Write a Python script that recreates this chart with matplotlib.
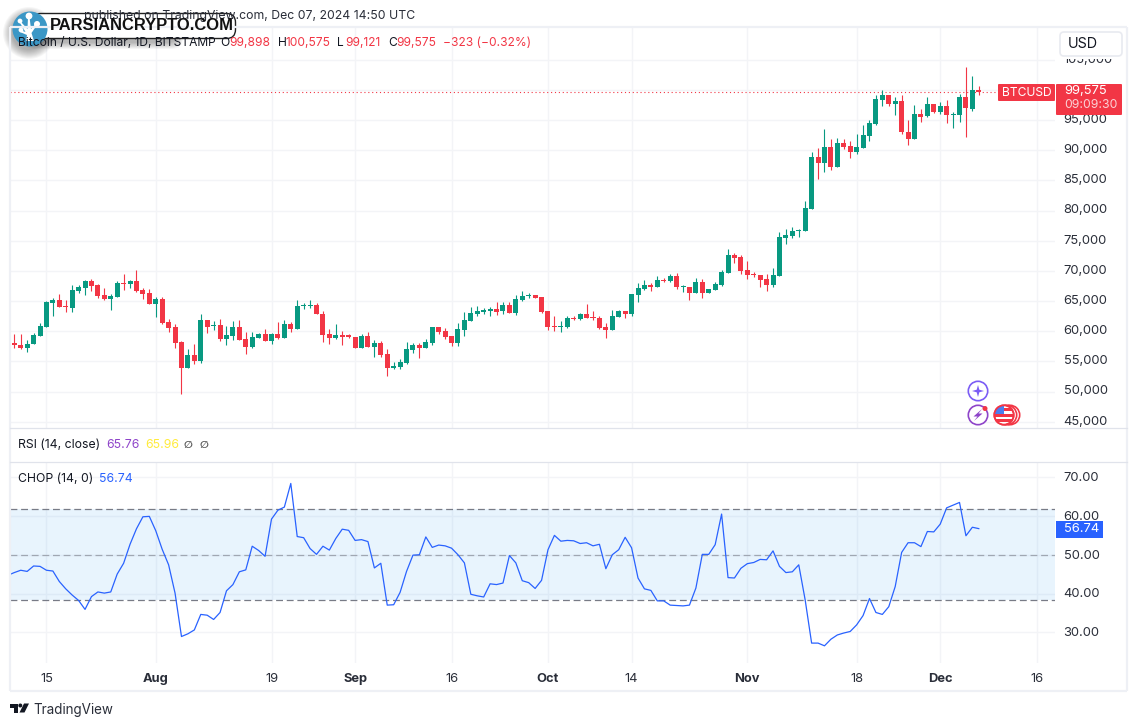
import numpy as np
import matplotlib
matplotlib.use("Agg")
import matplotlib.pyplot as plt
from matplotlib.patches import Circle, FancyBboxPatch, Polygon, Rectangle
from matplotlib.transforms import ScaledTranslation

plt.rcParams['font.family'] = ['Inter', 'DejaVu Sans']

# ---------- data ----------
opens = [58010,57680,57180,57840,59170,60660,64640,65140,64140,63810,66630,67130,68290,67620,65970,65300,65630,67960,67790,68290,
66800,66300,64480,65300,61490,60660,58180,53870,56020,55030,61820,60830,61000,58670,59170,60660,58670,57350,58840,59500,
58340,59500,58840,61160,60330,64140,64140,64310,62820,59500,58840,59340,59340,59005,57180,59170,57350,58010,56190,53870,
54030,54690,56850,57680,57180,58010,60660,60000,59170,58010,60165,61660,62820,63150,63315,63645,63315,64310,62980,65140,
65800,65965,65635,63315,60830,60660,60660,62155,61990,62820,62320,62155,60660,60165,62320,63315,62820,65965,66960,67625,
67290,68450,68290,69115,67290,67290,66300,68120,66300,66795,67620,69610,72595,72265,70110,69446,69280,68620,67620,69115,
75415,75745,76570,76570,80220,88840,87845,90500,87180,91160,90660,89670,90330,92320,94310,98288,99116,97625,98122,92983,
91823,95967,95635,97625,96300,97293,95800,95800,98785,96796,99898]
highs = [59500,59500,58510,59780,61440,64970,65470,66130,65140,67620,67620,68560,68620,67790,67130,66130,68290,69450,68450,70110,
67130,66960,65630,65630,62100,61160,58340,57020,57840,62820,61820,61660,62000,60830,61660,61820,59830,59830,59670,60330,
59670,61490,61820,61490,65140,64640,65140,64640,63310,60330,61160,60000,59500,59005,59500,59835,58510,58340,57020,54860,
55360,58180,58010,58010,58675,60660,60660,60500,59170,61325,63150,63980,64145,63810,63980,64805,64805,64805,65965,66630,
66300,65965,65635,63315,62485,61660,62485,62485,62980,64475,63315,62485,61325,63480,63480,63315,66130,67955,68450,67955,
69115,68785,69450,69610,67620,67290,68785,68620,66960,68120,70110,73590,72927,72595,71600,69780,69280,69446,70440,76410,
76905,77235,76905,81545,89670,90330,93480,91820,91990,91820,91490,92650,94144,94973,99116,99945,99116,98785,99116,94973,
97459,96796,98785,97625,97956,98288,96300,99282,103757,102265,100575]
lows = [57180,57130,56520,57840,59170,60660,62490,63980,63260,63260,66300,65970,66630,65470,65140,63480,65630,66800,67130,66460,
65300,64480,62320,61160,59830,57180,49560,53870,54530,54700,59670,60170,58340,57680,58510,58510,56190,57180,58840,58340,
57840,58670,58840,59830,60330,63650,63810,62820,58180,57840,58670,57680,58840,57180,57180,57350,55690,55690,52540,53700,
53700,54530,56350,55525,57180,57680,59500,58675,57515,57515,59170,61660,62485,62820,62485,62650,62820,62980,62650,64970,
65470,65470,62980,60165,60000,59835,60500,61825,61825,62155,61825,60330,58840,60165,62320,62155,62485,64805,66795,66630,
67290,68120,68120,66960,66460,65137,66300,65470,66300,66795,67460,69610,71270,69446,68620,68950,67290,66630,67290,69115,
74420,75415,75580,76570,80220,85190,86350,86685,87180,90170,88674,89337,90330,91490,94144,97293,97293,95800,92650,90829,
91823,94641,95470,96133,95967,94475,93647,94641,92155,96464,99121]
closes = [57680,57180,57840,59340,60830,64810,65140,63980,63980,66800,67290,68290,67460,65800,65300,65800,67960,67790,68290,66630,
66130,64480,65300,61330,60500,58010,53870,56020,55030,61820,60660,61000,58670,59340,60660,58510,57350,59000,59500,58340,
59500,58840,61160,60330,64140,64310,64310,62820,59340,58840,59340,59000,59000,57180,59170,57350,58010,56020,53870,54200,
54860,57020,57680,57180,58180,60660,59835,59005,58010,60330,61825,62980,63315,63480,63645,63150,64310,62980,65300,65800,
65965,65470,63150,60660,60660,60830,62155,61990,62820,62155,62155,60500,60165,62485,63315,62820,66130,67130,67625,67290,
68450,68290,69115,67290,67460,66297,68120,66300,66960,67790,69780,72595,72100,69945,69280,69280,68450,67620,69280,75580,
75910,76570,76740,80385,88840,87845,90500,87180,91160,90500,89670,90500,92486,94475,98453,99116,97625,98122,92983,91823,
95967,95470,97625,96300,97293,95800,95967,98785,96962,99945,99575]
# the first value lies one session before the first candle
chop = [44.7,45.4,46.0,45.7,47.1,47.0,46.0,45.8,43.1,41.2,39.6,38.2,35.9,39.2,40.4,40.1,40.4,45.0,47.8,52.7,
56.7,59.8,59.9,56.2,51.4,47.4,40.1,28.9,29.6,30.6,34.6,34.4,33.3,35.1,40.7,42.3,45.6,46.1,52.2,51.1,
49.6,59.2,61.5,62.3,68.4,54.7,54.4,51.6,50.1,52.2,51.2,54.2,56.6,56.3,53.7,53.9,53.4,46.6,47.8,37.0,
37.1,40.3,45.7,49.9,50.0,54.6,51.9,52.5,52.3,51.7,50.0,47.9,39.8,39.4,39.1,42.5,42.3,42.7,49.8,47.9,
43.3,42.8,41.3,43.4,51.3,55.0,53.5,53.7,53.6,52.9,53.1,52.3,52.7,46.4,50.0,51.3,54.5,51.8,44.0,41.2,
40.8,38.1,38.1,37.0,36.9,36.8,37.0,41.4,50.1,50.1,52.6,60.5,44.1,44.0,46.5,47.7,48.0,48.8,48.7,51.0,
47.0,45.4,45.6,47.4,38.3,27.2,27.2,26.5,28.2,29.3,29.8,30.2,31.9,34.3,38.7,35.1,34.6,36.6,41.8,50.6,
53.1,53.1,52.1,56.0,55.9,57.9,62.1,62.8,63.5,54.9,57.1,56.74]
price_ticks = [45000,50000,55000,60000,65000,70000,75000,80000,85000,90000,95000,100000,105000]
chop_ticks = [30,40,50,60,70]
time_pos = [5,22,40,53,68,83,96,114,131,144,159]
time_labels = ['15','Aug','19','Sep','16','Oct','14','Nov','18','Dec','16']
month_labels = {'Aug','Sep','Oct','Nov','Dec'}

UP, DOWN, BLUE = '#089981', '#F23645', '#2962FF'
GRID, SEP, TXT = '#F3F4F7', '#E0E3EB', '#131722'
W, H = 1137, 726

fig = plt.figure(figsize=(W/100, H/100), dpi=100, facecolor='white')
def axes_px(x0, y0, x1, y1):
    return fig.add_axes([x0/W, 1-y1/H, (x1-x0)/W, (y1-y0)/H])
def raise_labels(axis_labels, px):
    for lab in axis_labels:
        lab.set_transform(lab.get_transform() + ScaledTranslation(0, px/100, fig.dpi_scale_trans))

XLIM = ((10-14.3)/6.43, (1055-14.3)/6.43)
PRICE_LIM = (95000-(428-120)/0.006034, 95000+(120-28)/0.006034)
CHOP_LIM = (60-(663-516)/3.875, 60+(516-462)/3.875)

# ---------- price pane ----------
ax = axes_px(10, 28, 1055, 428)
x = np.arange(len(closes))
o, h, l, c = map(np.array, (opens, highs, lows, closes))
col = [UP if b >= a else DOWN for a, b in zip(o, c)]
ax.vlines(x, l, h, colors=col, lw=0.8, zorder=3)
ax.bar(x, np.abs(c-o), bottom=np.minimum(o, c), width=0.78, color=col, lw=0, zorder=4)
ax.axhline(closes[-1], color=DOWN, lw=0.8, ls=(0, (1, 2.5)), zorder=2)
ax.set_xlim(XLIM); ax.set_ylim(PRICE_LIM)
ax.set_xticks(time_pos); ax.set_xticklabels([])
ax.set_yticks(price_ticks); ax.set_yticklabels([f'{v:,}' for v in price_ticks])
ax.yaxis.tick_right()
ax.tick_params(length=0, labelsize=9.3, labelcolor='#2A2E39', pad=6.2)
ax.grid(True, color=GRID, lw=1); ax.set_axisbelow(True)
raise_labels(ax.get_yticklabels(), 1.6)
for s in ax.spines.values(): s.set_visible(False)

# ---------- CHOP pane ----------
ax2 = axes_px(10, 462, 1055, 663)
ax2.axhspan(38.2, 61.8, color='#2196F3', alpha=0.1, lw=0, zorder=1)
for lev, a in ((61.8, 1), (50, .6), (38.2, 1)):
    ax2.axhline(lev, color='#787B86', lw=0.9, alpha=a, ls=(0, (5.5, 3)), zorder=2)
ax2.plot(np.arange(len(chop))-1, chop, color=BLUE, lw=0.9, zorder=3)
ax2.set_xlim(XLIM); ax2.set_ylim(CHOP_LIM)
ax2.set_xticks(time_pos); ax2.set_xticklabels(time_labels)
ax2.set_yticks(chop_ticks); ax2.set_yticklabels([f'{v:.2f}' for v in chop_ticks])
ax2.yaxis.tick_right()
ax2.tick_params(length=0, labelsize=9.3, labelcolor='#2A2E39')
ax2.tick_params(axis='y', pad=6.2); ax2.tick_params(axis='x', pad=7)
for lab in ax2.get_xticklabels():
    if lab.get_text() in month_labels: lab.set_fontweight('bold')
ax2.grid(True, color=GRID, lw=1); ax2.set_axisbelow(True)
raise_labels(ax2.get_yticklabels(), 0.7)
for s in ax2.spines.values(): s.set_visible(False)

# ---------- overlay in pixels ----------
ov = fig.add_axes([0, 0, 1, 1], zorder=10)
ov.set_xlim(0, W); ov.set_ylim(H, 0); ov.axis('off'); ov.patch.set_alpha(0)
def T(x_, y_, s, **kw):
    kw.setdefault('fontsize', 9.4); kw.setdefault('color', TXT)
    kw.setdefault('va', 'center'); kw.setdefault('ha', 'left')
    return ov.text(x_, y_, s, **kw)

# frame and separators
for xs, ys in (([10,10],[27,691]), ([1127,1127],[27,691]), ([10,1127],[691,691]), ([10,1127],[27,27])):
    ov.plot(xs, ys, color='#EEF0F5', lw=1.6, solid_capstyle='butt')
for yy in (428, 462):
    ov.plot([10,1127],[yy,yy], color=SEP, lw=0.9)

# USD button, with the white margin that clips the top price label
ov.add_patch(Rectangle((1056,28),70,30.5, fc='white', ec='none'))
ov.add_patch(FancyBboxPatch((1060,32),62,24, boxstyle='round,pad=0,rounding_size=4', fc='white', ec='#E8EAF0', lw=1.2))
T(1068, 44, 'USD', fontsize=10.3)

# price tags
ov.add_patch(FancyBboxPatch((998,84),57,17, boxstyle='round,pad=0,rounding_size=1', fc=DOWN, ec='none'))
T(1026.5, 92.8, 'BTCUSD', color='white', ha='center', fontsize=8.7)
ov.add_patch(FancyBboxPatch((1056,84),66,31, boxstyle='round,pad=0,rounding_size=1', fc=DOWN, ec='none'))
T(1064, 91.5, f'{closes[-1]:,}', color='white', fontsize=9.3)
T(1064, 105.5, '09:09:30', color='#FBD0D4', fontsize=8.8)
ov.add_patch(Rectangle((1056,521),47,17, fc=BLUE, ec='none'))
T(1064, 529.5, f'{chop[-1]:.2f}', color='white', fontsize=9.3)

# legends
T(415, 15.5, 'published on TradingView.com, Dec 07, 2024 14:50 UTC', ha='right', fontsize=8.8, color='#2A2E39')
T(18, 43, 'Bitcoin / U.S. Dollar, 1D, BITSTAMP', fontsize=8.65)
for x_, lab, val in ((220.5,'O','99,898'), (278,'H','100,575'), (337.5,'L','99,121'), (388.5,'C','99,575')):
    T(x_, 43, lab, fontsize=8.65)
xv = {'99,898': 229.5, '100,575': 286, '99,121': 345, '99,575': 396.5}
for val, x_ in xv.items():
    T(x_, 43, val, color=DOWN, fontsize=8.65)
T(443, 43, '\u2212323 (\u22120.32%)', color=DOWN, fontsize=8.65)
T(18, 445, 'RSI (14, close)', fontsize=8.8)
T(106, 445, '65.76', color='#8E44C9', fontsize=8.8)
T(145, 445, '65.96', color='#FFEB3B', fontsize=8.8)
T(184, 445, '\u2205', fontsize=7.5, family=['DejaVu Sans'], fontweight='bold', color='#555555')
T(200, 445, '\u2205', fontsize=7.5, family=['DejaVu Sans'], fontweight='bold', color='#555555')
T(18, 479, 'CHOP (14, 0)', fontsize=8.8)
T(99, 479, f'{chop[-1]:.2f}', color=BLUE, fontsize=8.8)

# TradingView mark
ov.add_patch(Polygon([(10,703.5),(18,703.5),(18,712.5),(14,712.5),(14,707.5),(10,707.5)], fc=TXT))
ov.add_patch(Circle((20.3,705.5),2, fc=TXT))
ov.add_patch(Polygon([(24,703.5),(29,703.5),(24.5,712.5),(19.5,712.5)], fc=TXT))
T(33.5, 710, 'TradingView', fontsize=9.7, color='#2A2E39')

# event icons
ov.add_patch(Circle((978,391),9.7, fc='white', ec='#7B5CF5', lw=1.2))
ov.add_patch(Polygon([(978,385),(979.3,389.7),(984,391),(979.3,392.3),(978,397),(976.7,392.3),(972,391),(976.7,389.7)], fc='#7B5CF5'))
ov.add_patch(Circle((978,415),9.7, fc='white', ec='#8E44C9', lw=1.2))
ov.add_patch(Polygon([(982,409),(973.5,416.5),(977.5,416.5),(974,421),(982.5,413.5),(978.5,413.5)], fc='#8E44C9'))
ov.add_patch(Circle((985,408.5),2.5, fc=DOWN))
for cx in (1010,1007):
    ov.add_patch(Circle((cx,415),9.7, fc='white', ec=DOWN, lw=1.2))
flag = Circle((1004,415),9.7, fc='white', ec=DOWN, lw=1.2)
ov.add_patch(flag)
for yy in (409,415,420):
    r = Rectangle((995,yy-1),19,3, fc=DOWN, ec='none'); ov.add_patch(r); r.set_clip_path(flag)
r = Rectangle((995,406),9,8, fc='#4A7DF0', ec='none'); ov.add_patch(r); r.set_clip_path(flag)
ov.add_patch(Circle((1004,415),9.7, fc='none', ec=DOWN, lw=1.2))

# site badge
for i in range(10):
    pad = 10-i
    ov.add_patch(FancyBboxPatch((28-pad*0.5,22-pad*0.3),150+pad,20+pad, boxstyle='round,pad=0,rounding_size=11',
                                fc='black', ec='none', alpha=0.03))
    ov.add_patch(Circle((29,33),16+pad, fc='black', ec='none', alpha=0.035))
ov.add_patch(FancyBboxPatch((32,13.5),203.5,25, boxstyle='round,pad=0,rounding_size=9', fc='white', ec='#222222', lw=1))
T(50, 26, 'PARSIANCRYPTO.COM', fontsize=11.9, fontweight='bold', family=['Liberation Sans'], color='#111111')
ov.add_patch(Circle((30,29),17.5, fc='#3B97C6', ec='none'))
for (a,b),rad in (((29,16),3.4),((20,21),2.4),((21,30),2.4),((37,24),3.0)):
    ov.add_patch(Circle((a,b),rad, fc='white'))
ov.add_patch(Polygon([(26,41),(34,41),(31.5,33),(37,25),(35.5,24),(31,29),(29.5,17),(28,17),(27.5,29),(21,22),(20,23),(25.5,32),(20,30),(20,32),(27,35)], fc='white'))

fig.savefig('out.png', dpi=100, facecolor='white')
